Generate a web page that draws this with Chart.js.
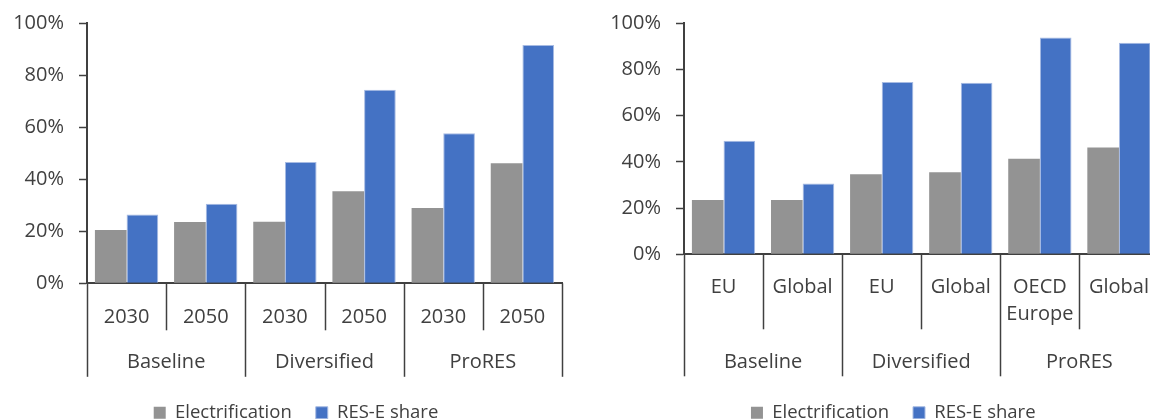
<!DOCTYPE html>
<html>
<head>
<meta charset="utf-8">
<script src="https://cdn.jsdelivr.net/npm/chart.js@4/dist/chart.umd.min.js"></script>
<style>
  html, body { margin: 0; padding: 0; background: #fff; }
  body { width: 1150px; height: 419px; overflow: hidden; position: relative; }
  .painel { position: absolute; top: 0; height: 432px; }
  #painelEsq { left: 0; width: 592px; }
  #painelDir { left: 590px; width: 606px; }
</style>
</head>
<body>
<div class="painel" id="painelEsq"><canvas id="graficoEsq"></canvas></div>
<div class="painel" id="painelDir"><canvas id="graficoDir"></canvas></div>
<script>
// dados (em %)
const anosEsq = ['2030', '2050', '2030', '2050', '2030', '2050'];
const cenarios = ['Baseline', 'Diversified', 'ProRES'];
const eletrificacaoEsq = [20.5, 23.6, 23.7, 35.4, 29.0, 46.2];
const resEsq = [26.5, 30.6, 46.7, 74.4, 57.7, 91.7];

const regioesDir = ['EU', 'Global', 'EU', 'Global', ['OECD', 'Europe'], 'Global'];
const eletrificacaoDir = [23.5, 23.5, 34.6, 35.5, 41.4, 46.2];
const resDir = [49.2, 30.7, 74.6, 74.3, 93.8, 91.6];

const nomesSeries = ['Electrification', 'RES-E share'];
const ticksY = [0, 20, 40, 60, 80, 100];

const corTexto = '#404040';
const corEixo = '#404040';
const fonteBase = { family: "'Open Sans', sans-serif", size: 20 };
const fonteLegenda = { family: "'Open Sans', sans-serif", size: 18.5 };

// desenha os rótulos em dois níveis e os separadores do eixo X
const eixoAgrupado = {
    id: 'eixoAgrupado',
    afterLayout(chart, args, opts) {
        // legenda um pouco deslocada para a direita, como no original
        chart.legend.left += opts.deslocLegenda;
        chart.legend.right += opts.deslocLegenda;
    },
    afterDraw(chart, args, opts) {
        const xs = chart.scales.x;
        const ctx = chart.ctx;
        const passo = xs.getPixelForValue(1) - xs.getPixelForValue(0);
        const topo = xs.top;
        const n = chart.data.labels.length;
        ctx.save();
        ctx.strokeStyle = corEixo;
        ctx.lineWidth = 1.5;
        for (let i = 0; i <= n; i++) {
            const x = Math.round(xs.getPixelForValue(i) - passo / 2) + 0.5;
            const comp = (i % 2 === 0) ? opts.linhaGrupo : opts.linhaInterna;
            ctx.beginPath();
            ctx.moveTo(x, topo);
            ctx.lineTo(x, topo + comp);
            ctx.stroke();
        }
        ctx.fillStyle = corTexto;
        ctx.font = `${fonteBase.size}px ${fonteBase.family}`;
        ctx.textAlign = 'center';
        ctx.textBaseline = 'alphabetic';
        chart.data.labels.forEach((rot, i) => {
            const linhas = Array.isArray(rot) ? rot : [rot];
            const x = xs.getPixelForValue(i);
            linhas.forEach((l, k) => ctx.fillText(l, x, topo + opts.baseRotulo + k * opts.entreLinhas));
        });
        opts.grupos.forEach((g, j) => {
            const x = (xs.getPixelForValue(2 * j) + xs.getPixelForValue(2 * j + 1)) / 2;
            ctx.fillText(g, x, topo + opts.baseGrupo);
        });
        ctx.restore();
    }
};

function montarGrafico(idCanvas, rotulos, eletr, res, cfg) {
    const ctx = document.getElementById(idCanvas).getContext('2d');
    return new Chart(ctx, {
        type: 'bar',
        data: {
            labels: rotulos,
            datasets: [
                {
                    label: nomesSeries[0],
                    data: eletr,
                    backgroundColor: '#939393',
                    borderWidth: 0
                },
                {
                    label: nomesSeries[1],
                    data: res,
                    backgroundColor: '#4472c4',
                    borderColor: '#a7bbe3',
                    borderWidth: 1
                }
            ]
        },
        options: {
            responsive: true,
            maintainAspectRatio: false,
            animation: false,
            categoryPercentage: 0.8,
            barPercentage: 1.0,
            layout: { padding: { top: 23.3, right: cfg.direita, left: 0, bottom: 0 } },
            plugins: {
                legend: {
                    position: 'bottom',
                    labels: {
                        font: fonteLegenda,
                        color: corTexto,
                        boxWidth: 12,
                        boxHeight: 12,
                        padding: 24
                    }
                },
                tooltip: { enabled: false },
                eixoAgrupado: {
                    grupos: cenarios,
                    linhaInterna: cfg.linhaInterna,
                    linhaGrupo: cfg.linhaGrupo,
                    baseRotulo: cfg.baseRotulo,
                    entreLinhas: 27,
                    baseGrupo: cfg.baseGrupo,
                    deslocLegenda: cfg.deslocLegenda
                }
            },
            scales: {
                x: {
                    ticks: { display: false },
                    grid: { display: false },
                    border: { display: true, color: corEixo, width: 2 },
                    afterFit(scale) { scale.height = cfg.alturaX; }
                },
                y: {
                    min: 0,
                    max: 100,
                    afterBuildTicks(scale) { scale.ticks = ticksY.map(v => ({ value: v })); },
                    ticks: {
                        font: fonteBase,
                        color: corTexto,
                        padding: 15,
                        callback: v => v + '%'
                    },
                    grid: {
                        drawOnChartArea: false,
                        drawTicks: true,
                        tickLength: 8,
                        tickColor: corEixo,
                        tickWidth: 1.5
                    },
                    border: { display: true, color: corEixo, width: 2 },
                    afterFit(scale) {
                        scale.width = cfg.larguraY;
                        scale.paddingTop = 0;
                        scale.paddingBottom = 0;
                    }
                }
            }
        },
        plugins: [eixoAgrupado]
    });
}

montarGrafico('graficoEsq', anosEsq, eletrificacaoEsq, resEsq, {
    direita: 30, larguraY: 87, alturaX: 96.2, deslocLegenda: 15,
    linhaInterna: 47, linhaGrupo: 93.5, baseRotulo: 39.4, baseGrupo: 85
});
montarGrafico('graficoDir', regioesDir, eletrificacaoDir, resDir, {
    direita: 37.5, larguraY: 94, alturaX: 125.2, deslocLegenda: 19,
    linhaInterna: 75, linhaGrupo: 122, baseRotulo: 38.4, baseGrupo: 114
});
</script>
</body>
</html>
